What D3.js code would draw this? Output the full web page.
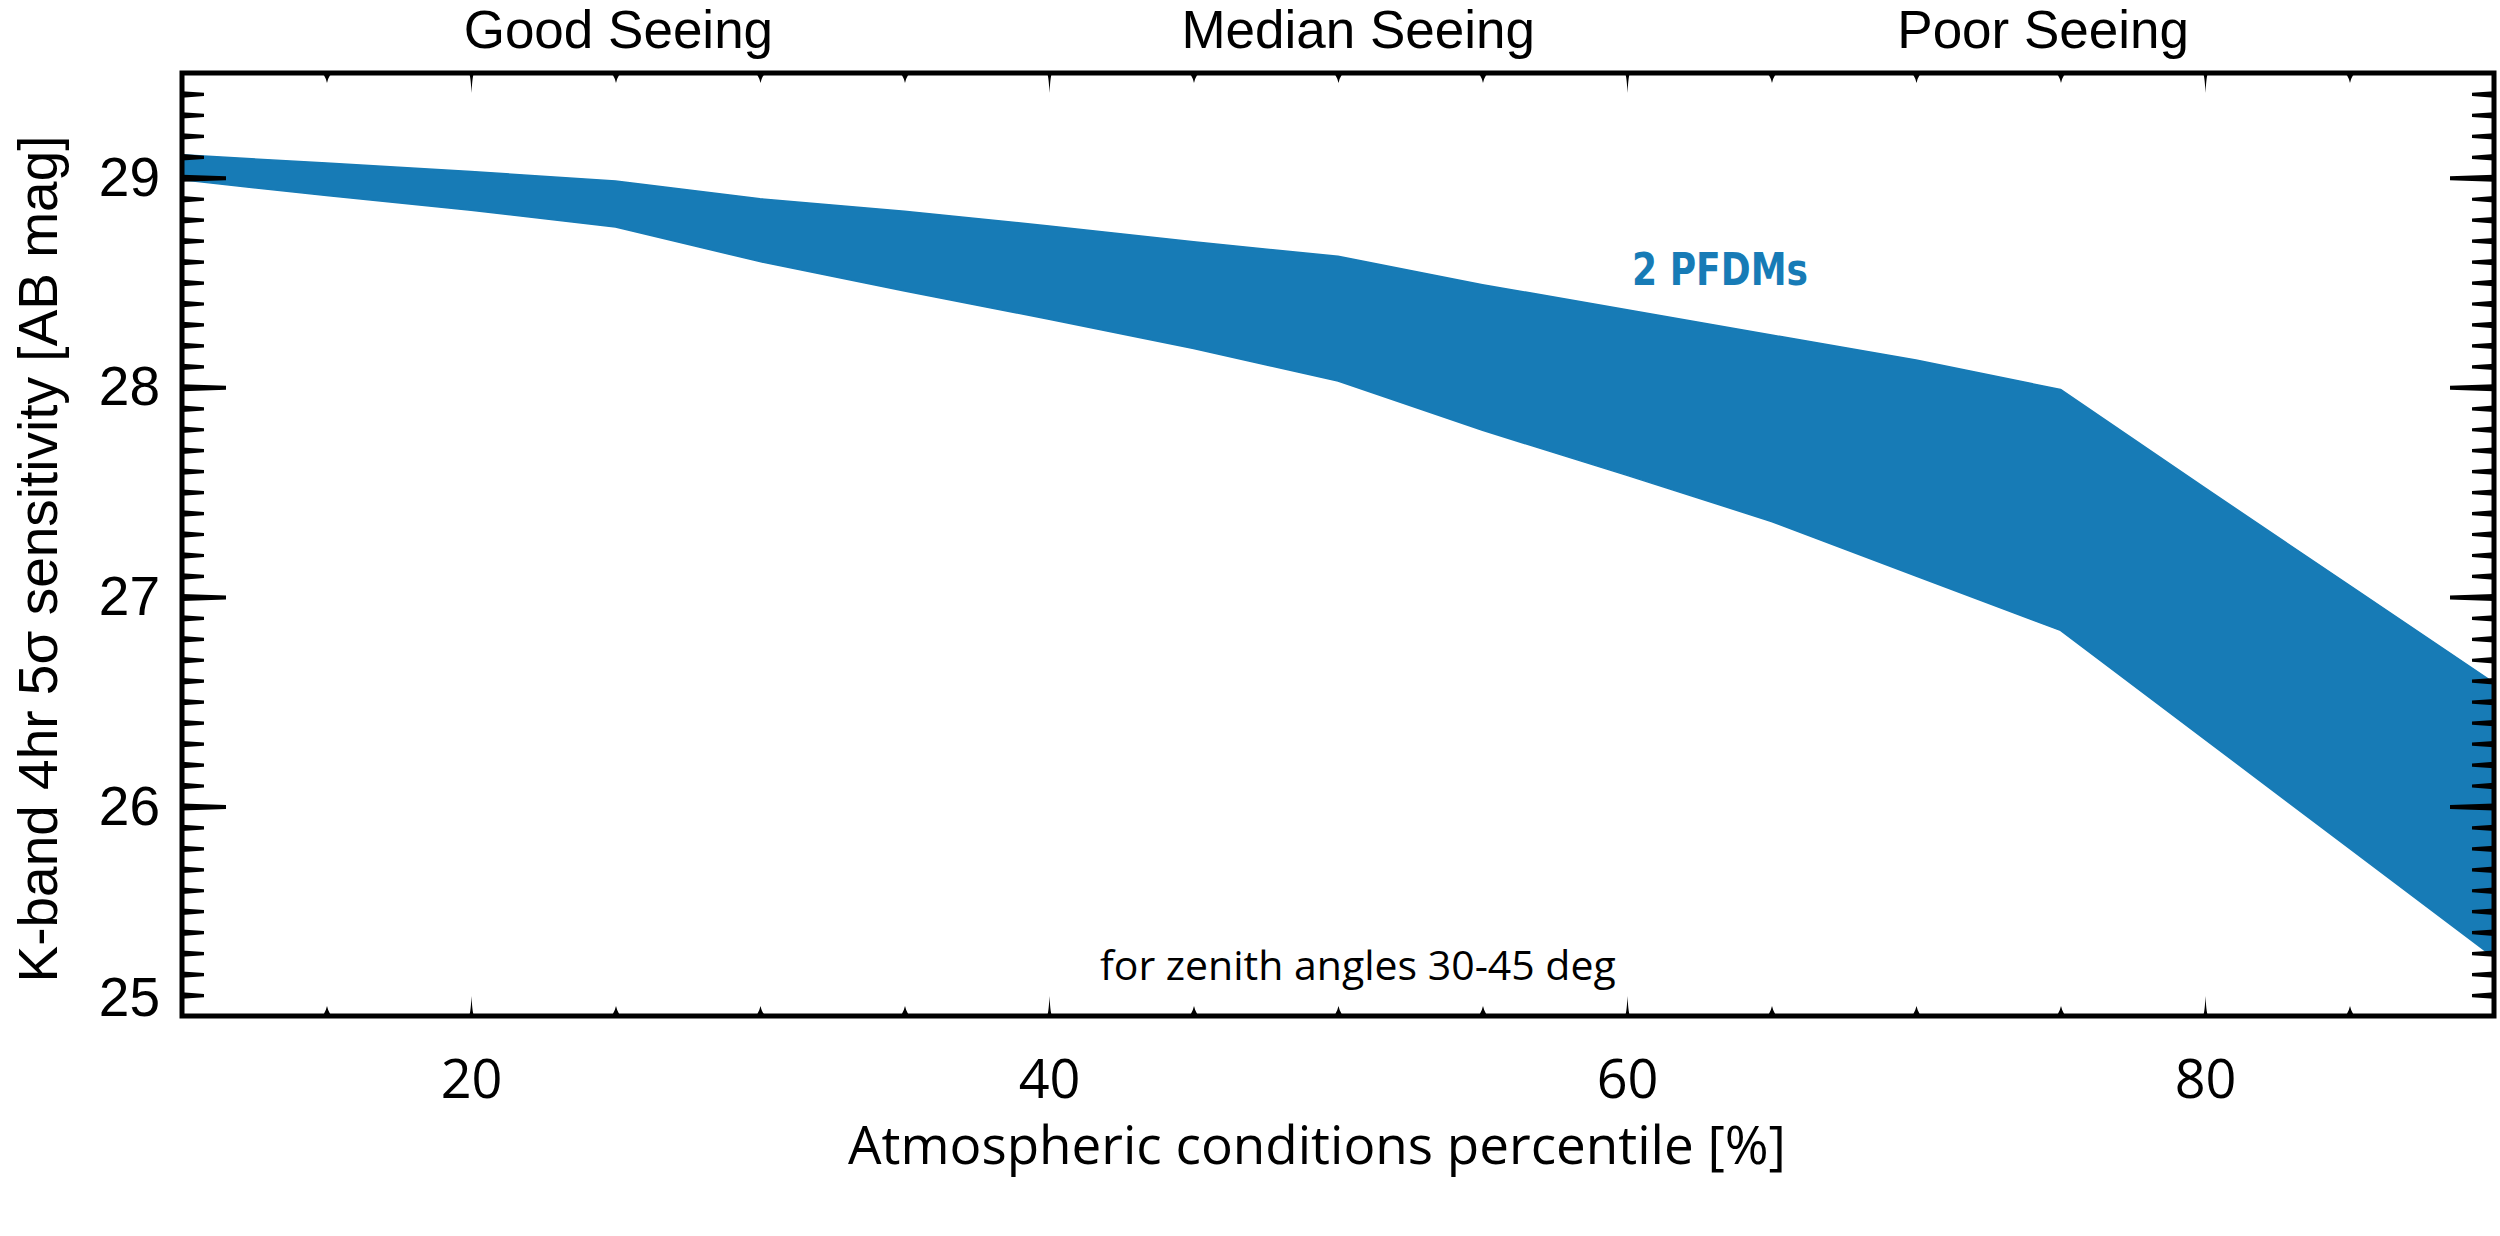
<!DOCTYPE html>
<html>
<head>
<meta charset="utf-8">
<script src="https://cdn.jsdelivr.net/npm/d3@7"></script>
<style>
    body { margin: 0; background: #fff; }
    .axis-label { font-family: "Liberation Sans", Arial, sans-serif; fill: #000; }
    .os { font-family: "Open Sans", sans-serif; fill: #000; }
</style>
</head>
<body>
<div id="chart"></div>
<script>
// atmospheric percentile and the two edges of the sensitivity band (AB mag)
const percentile = [10, 15, 20, 25, 30, 35, 40, 45, 50, 55, 60, 65, 70, 75, 80, 85, 90];
const bestMag  = [29.11, 29.07, 29.03, 28.985, 28.90, 28.84, 28.77, 28.695, 28.625, 28.49, 28.37, 28.25, 28.13, 27.99, 27.52, 27.055, 26.59];
const worstMag = [28.99, 28.915, 28.845, 28.765, 28.60, 28.46, 28.325, 28.185, 28.03, 27.795, 27.58, 27.36, 27.10, 26.84, 26.32, 25.80, 25.28];

const xTickValues = [20, 40, 60, 80];
const yTickValues = [25, 26, 27, 28, 29];
const seeingLabels = ["Good Seeing", "Median Seeing", "Poor Seeing"];
const seeingAt = [25.1, 50.7, 74.4];
const bandLabel = "2 PFDMs";
const noteLabel = "for zenith angles 30-45 deg";
const xTitle = "Atmospheric conditions percentile [%]";
const yTitle = "K-band 4hr 5σ sensitivity [AB mag]";

const width = 2500, height = 1236;
const margin = {top: 73, right: 6, bottom: 220, left: 182};
const innerwidth = width - margin.left - margin.right;
const innerheight = height - margin.top - margin.bottom;
const blue = "#177bb6";

const data = percentile.map((p, i) => ({p: p, hi: bestMag[i], lo: worstMag[i]}));

const svg = d3.select("#chart")
    .append("svg")
    .attr("width", width)
    .attr("height", height)
    .attr("viewBox", `0 0 ${width} ${height}`);

const innerChart = svg.append("g")
    .attr("transform", `translate(${margin.left},${margin.top})`);

const xScale = d3.scaleLinear().domain([10, 90]).range([0, innerwidth]);
const yScale = d3.scaleLinear().domain([25, 29.5]).range([innerheight, 0]);

const band = d3.area()
    .x(d => xScale(d.p))
    .y0(d => yScale(d.lo))
    .y1(d => yScale(d.hi))
    .curve(d3.curveLinear);

innerChart.append("path")
    .datum(data)
    .attr("d", band)
    .attr("fill", blue)
    .attr("stroke", blue)
    .attr("stroke-width", 1.5)
    .attr("stroke-linejoin", "round");

// spike shaped ticks, like the original plot
const xMinor = d3.range(15, 90, 5);
const yMinor = d3.range(251, 295).map(v => v / 10);

const spikeX = (len, half) => `M${-half},0 Q${-half / 3},0 0,${-len} Q${half / 3},0 ${half},0 Z`;
const spikeY = (len, base, tip) => `M0,${-base} L${len},${-tip} L${len},${tip} L0,${base} Z`;

const addSpikes = (g, pathFor) => {
    g.selectAll(".tick line").remove();
    g.select(".domain").remove();
    g.selectAll(".tick").append("path")
        .attr("d", d => pathFor(d))
        .attr("fill", "#000");
};

const isMajorX = d => xTickValues.includes(d);
const isMajorY = d => Math.abs(d - Math.round(d)) < 1e-6;

innerChart.append("g")
    .attr("transform", `translate(0,${innerheight})`)
    .call(d3.axisBottom(xScale).tickValues(xMinor).tickSize(0).tickFormat(""))
    .call(g => addSpikes(g, d => isMajorX(d) ? spikeX(20, 3) : spikeX(10, 7)));

innerChart.append("g")
    .call(d3.axisTop(xScale).tickValues(xMinor).tickSize(0).tickFormat(""))
    .call(g => g.attr("transform", "scale(1,-1)"))
    .call(g => addSpikes(g, d => isMajorX(d) ? spikeX(20, 3) : spikeX(10, 7)));

innerChart.append("g")
    .call(d3.axisLeft(yScale).tickValues(yMinor).tickSize(0).tickFormat(""))
    .call(g => addSpikes(g, d => isMajorY(d) ? spikeY(44, 3.5, 2) : spikeY(22, 3.2, 1.6)));

innerChart.append("g")
    .attr("transform", `translate(${innerwidth},0) scale(-1,1)`)
    .call(d3.axisLeft(yScale).tickValues(yMinor).tickSize(0).tickFormat(""))
    .call(g => addSpikes(g, d => isMajorY(d) ? spikeY(44, 3.5, 2) : spikeY(22, 3.2, 1.6)));

// frame
innerChart.append("rect")
    .attr("width", innerwidth)
    .attr("height", innerheight)
    .attr("fill", "none")
    .attr("stroke", "#000")
    .attr("stroke-width", 5);

// tick labels
const bottomLabels = innerChart.append("g")
    .attr("transform", `translate(0,${innerheight})`)
    .call(d3.axisBottom(xScale).tickValues(xTickValues).tickSize(0).tickPadding(44));
bottomLabels.select(".domain").remove();
bottomLabels.selectAll("text")
    .attr("class", "os")
    .style("font-size", "54px");

const leftLabels = innerChart.append("g")
    .call(d3.axisLeft(yScale).tickValues(yTickValues).tickSize(0).tickPadding(22).tickFormat(d3.format("d")));
leftLabels.select(".domain").remove();
leftLabels.selectAll("text")
    .attr("class", "axis-label")
    .style("font-size", "55px")
    .attr("y", d => d === 25 ? -18 : 0);
leftLabels.attr("font-family", null).attr("font-size", null);
bottomLabels.attr("font-family", null).attr("font-size", null);

// axis titles
svg.append("text")
    .text(xTitle)
    .attr("class", "os")
    .attr("text-anchor", "middle")
    .attr("x", 1317)
    .attr("y", 1164)
    .style("font-size", "53px");

svg.append("text")
    .text(yTitle)
    .attr("class", "axis-label")
    .attr("text-anchor", "middle")
    .attr("transform", "translate(57,559) rotate(-90)")
    .style("font-size", "55px");

// seeing labels above the frame
svg.selectAll(".seeing")
    .data(seeingLabels)
    .join("text")
    .attr("class", "axis-label seeing")
    .attr("text-anchor", "middle")
    .attr("x", (d, i) => margin.left + xScale(seeingAt[i]))
    .attr("y", 48)
    .style("font-size", "53px")
    .text(d => d);

// annotations
svg.append("text")
    .text(bandLabel)
    .attr("x", 1632)
    .attr("y", 285)
    .attr("textLength", 176)
    .attr("lengthAdjust", "spacingAndGlyphs")
    .style("font-family", "'DejaVu Sans', sans-serif")
    .style("font-weight", "bold")
    .style("font-size", "44px")
    .attr("fill", blue);

svg.append("text")
    .text(noteLabel)
    .attr("class", "os")
    .attr("x", 1100)
    .attr("y", 980)
    .style("font-size", "41px");
</script>
</body>
</html>
